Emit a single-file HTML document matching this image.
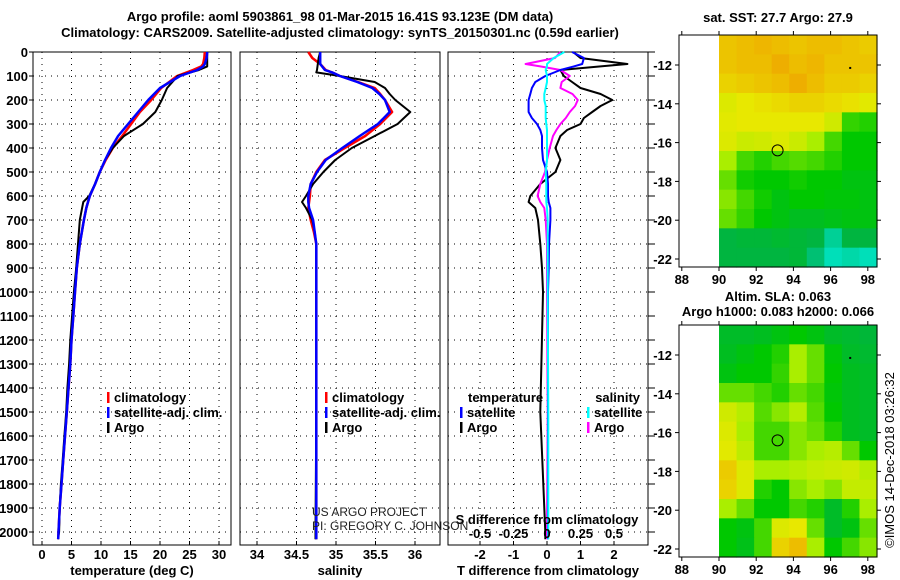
<!DOCTYPE html>
<html><head><meta charset="utf-8"><style>
html,body{margin:0;padding:0;background:#fff;}
svg{display:block;font-family:"Liberation Sans",Arial,sans-serif;}
.b{font-weight:bold;font-size:13px;}
</style></head><body>
<svg id="c" width="900" height="580" viewBox="0 0 900 580" xmlns="http://www.w3.org/2000/svg">
<text class="b" x="340" y="21" text-anchor="middle">Argo profile: aoml 5903861_98 01-Mar-2015 16.41S 93.123E (DM data)</text>
<text class="b" x="340" y="37" text-anchor="middle">Climatology: CARS2009. Satellite-adjusted climatology: synTS_20150301.nc (0.59d earlier)</text>
</svg>
<script>
// ---- profile data ----
const depthsT = [0,25,50,60,75,100,150,200,250,300,350,400,450,500,550,600,625,650,700,800,900,1000,1100,1200,1300,1400,1500,1600,1700,1800,1900,2000,2030];
const tempArgo = [28.0,28.0,28.0,28.0,26.6,23.0,21.2,20.3,19.2,17.1,13.9,12.0,10.7,9.8,9.0,8.0,7.0,6.8,6.4,6.1,5.8,5.4,5.1,4.8,4.6,4.3,4.1,3.8,3.5,3.2,3.0,2.9,2.7];
const tempClim = [27.6,27.5,27.3,27.0,25.6,22.9,20.2,18.5,16.6,15.1,13.6,12.0,10.8,9.8,9.0,8.1,7.8,7.5,7.1,6.4,5.9,5.6,5.3,5.0,4.8,4.5,4.2,3.9,3.6,3.3,3.0,2.8,2.75];
const tempSat = [28.0,27.9,27.6,27.3,26.3,23.4,20.0,18.0,16.3,14.6,12.9,11.7,10.7,9.8,9.0,8.1,7.8,7.5,7.1,6.4,5.9,5.6,5.3,5.0,4.8,4.5,4.2,3.9,3.6,3.3,3.0,2.8,2.75];
const depthsS = [0,25,50,75,85,100,125,150,175,200,250,300,350,400,450,500,550,600,625,650,700,750,800,1000,1500,2000,2030];
const salArgo = [34.80,34.78,34.77,34.76,34.75,35.05,35.49,35.62,35.68,35.75,35.94,35.78,35.49,35.20,34.99,34.84,34.71,34.62,34.57,34.62,34.70,34.73,34.75,34.75,34.75,34.74,34.74];
const salClim = [34.65,34.70,34.80,34.87,34.95,35.05,35.28,35.49,35.56,35.62,35.71,35.56,35.37,35.11,34.86,34.75,34.68,34.67,34.66,34.65,34.68,34.72,34.75,34.75,34.75,34.75,34.75];
const salSat = [34.80,34.80,34.80,34.86,34.95,35.05,35.27,35.46,35.55,35.62,35.68,35.53,35.30,35.08,34.87,34.76,34.68,34.65,34.65,34.66,34.71,34.73,34.75,34.75,34.75,34.75,34.75];
const depthsD = [0,25,50,60,75,100,125,150,175,200,225,250,275,300,325,350,400,450,500,550,600,625,650,700,800,900,1000,1500,2000,2030];
const dTArgo = [0.78,1.0,2.4,1.6,0.4,0.5,0.75,1.0,1.6,1.95,1.6,1.35,1.1,1.0,0.6,0.4,0.25,0.4,0.25,-0.2,-0.5,-0.55,-0.35,-0.27,-0.2,-0.15,-0.12,-0.2,-0.05,-0.05];
const dTSat = [0.75,1.1,1.05,0.8,0.4,-0.05,-0.35,-0.45,-0.5,-0.55,-0.55,-0.55,-0.45,-0.3,-0.2,-0.15,-0.15,-0.12,0,0.03,0.03,0.05,0.1,0.1,0.06,0.05,0.03,0.03,0.03,0.03];
const dSArgo = [0.1,0.06,-0.16,-0.05,0.1,0.17,0.11,0.1,0.19,0.23,0.21,0.17,0.14,0.1,0.07,0.045,0.02,0,-0.015,-0.05,-0.07,-0.05,-0.02,-0.01,0,0,0,0.005,0,0];
const dSSat = [0.13,0.05,0,0,-0.01,0,0,-0.01,-0.02,-0.02,-0.01,-0.01,-0.01,-0.005,0,0,0,0,-0.01,-0.005,-0.005,-0.005,0,0.005,0.005,0.005,0.005,0.01,0.01,0.01];
const depthTicks = [0,100,200,300,400,500,600,700,800,900,1000,1100,1200,1300,1400,1500,1600,1700,1800,1900,2000];
const tTicks = [0,5,10,15,20,25,30];
const sTicks = [34,34.5,35,35.5,36];
const sTickLabels = ["34","34.5","35","35.5","36"];
const dTTicks = [-2,-1,0,1,2];
const dSTicks = [-0.5,-0.25,0,0.25,0.5];
const dSTickLabels = ["-0.5","-0.25","0","0.25","0.5"];
// ---- map data (cell values on colour scale 0=cyan .. 5=orange) ----
const lonTicks = [88,90,92,94,96,98];
const latTicks = [-12,-14,-16,-18,-20,-22];
const sstGrid = [
[4.5,4.6,4.7,4.6,4.5,4.6,4.6,4.5,4.4],
[4.5,4.6,4.6,4.8,4.6,4.7,4.5,4.5,4.5],
[4.3,4.4,4.5,4.6,4.8,4.6,4.4,4.4,4.3],
[3.8,4.0,4.1,4.2,4.3,4.3,4.2,4.1,3.9],
[3.9,4.0,4.0,4.0,4.0,4.0,3.6,2.3,2.2],
[3.8,3.5,3.6,3.8,3.5,3.0,2.4,2.0,2.0],
[3.0,2.4,2.2,2.4,2.5,2.4,2.2,2.0,2.0],
[2.6,2.1,2.0,2.0,2.1,2.0,2.0,1.8,1.8],
[2.8,2.4,2.1,1.8,2.0,2.0,1.9,1.9,1.8],
[2.6,2.3,2.0,1.8,1.6,1.6,1.7,1.8,1.8],
[1.2,1.3,1.3,1.4,1.3,1.2,0.6,1.2,1.2],
[1.2,1.2,1.2,1.2,1.3,0.8,0.4,0.5,0.4]];
const slaGrid = [
[1.5,1.5,1.6,1.8,2.0,1.8,1.5,1.4,1.3],
[1.6,1.8,2.0,2.2,3.0,2.6,1.9,1.5,1.4],
[1.8,2.0,2.0,2.3,3.0,2.6,2.0,1.6,1.5],
[2.6,2.6,2.4,2.2,2.6,2.4,1.9,1.6,1.5],
[3.6,3.2,2.5,2.8,3.2,2.5,2.0,1.6,1.5],
[3.8,3.0,2.4,2.4,2.8,2.6,2.2,1.6,1.5],
[3.9,3.3,2.4,2.4,2.8,3.0,3.2,2.6,2.0],
[4.4,3.8,3.0,3.0,3.2,3.4,3.5,3.6,3.2],
[4.3,3.8,2.2,2.0,2.8,3.0,2.8,3.4,3.4],
[3.0,2.6,2.0,2.0,2.4,2.2,1.5,2.2,3.0],
[2.0,1.8,2.4,3.8,4.0,2.6,1.5,1.8,2.6],
[2.0,1.7,2.4,4.3,4.6,3.0,2.0,2.4,2.8]];
const argoPos = [93.15,-16.4];

const svg=document.getElementById('c');
const NS='http://www.w3.org/2000/svg';
function mk(tag,attrs,parent){const e=document.createElementNS(NS,tag);for(const k in attrs)e.setAttribute(k,attrs[k]);(parent||svg).appendChild(e);return e;}
const Y0=52,Y1=545;
const yD=d=>Y0+d*0.24;
function txt(x,y,s,anchor,cls,name,extra){const t=mk('text',Object.assign({x:x,y:y,'text-anchor':anchor||'middle'},extra||{}));if(cls)t.setAttribute('class',cls);t.textContent=s;


return t;}

function panel(x0,x1,xf,ticks,labels,xlabel,name,leftLabels){
  const g=mk('g',{});
  
  
  depthTicks.forEach(d=>{const y=yD(d);mk('line',{x1:x0,x2:x1,y1:y,y2:y,stroke:'#000','stroke-width':1,'stroke-dasharray':'1,5'},g);
    if(leftLabels){const t=txt(x0-5,y+5,String(d),'end','b','depth-tick-label');g.appendChild(t);mk('line',{x1:x0-4,x2:x0,y1:y,y2:y,stroke:'#000'},g);}});
  ticks.forEach((v,i)=>{const x=xf(v);mk('line',{x1:x,x2:x,y1:Y0,y2:Y1,stroke:'#000','stroke-width':1,'stroke-dasharray':'1,5'},g);
    mk('line',{x1:x,x2:x,y1:Y1,y2:Y1-4,stroke:'#000'},g);
    if(labels){const t=txt(x,559,labels[i],'middle','b','x-tick-label');g.appendChild(t);}});
  mk('rect',{x:x0,y:Y0,width:x1-x0,height:Y1-Y0,fill:'none',stroke:'#000','stroke-width':1},g);
  if(xlabel){const t=txt((x0+x1)/2,575,xlabel,'middle','b','x-axis-title');g.appendChild(t);}
  return g;
}
function line(g,xs,ds,xf,color,w,name){
  const pts=xs.map((v,i)=>xf(v).toFixed(1)+','+yD(ds[i]).toFixed(1)).join(' ');
  const p=mk('polyline',{points:pts,fill:'none',stroke:color,'stroke-width':w,'stroke-linejoin':'round'},g);
  
  
}
// panel 1
const xT=v=>42+5.9*v;
const g1=panel(33,231,xT,tTicks,tTicks.map(String),'temperature (deg C)','temperature-panel',true);
line(g1,tempClim,depthsT,xT,'#f00',2.5,'temperature-climatology-line');
line(g1,tempArgo,depthsT,xT,'#000',2,'temperature-argo-line');
line(g1,tempSat,depthsT,xT,'#00f',2.5,'temperature-satellite-line');
// panel 2
const xS=v=>257+79*(v-34);
const g2=panel(240,440,xS,sTicks,sTickLabels,'salinity','salinity-panel',false);
line(g2,salClim,depthsS,xS,'#f00',2.5,'salinity-climatology-line');
line(g2,salArgo,depthsS,xS,'#000',2,'salinity-argo-line');
line(g2,salSat,depthsS,xS,'#00f',2.5,'salinity-satellite-line');
// panel 3
const xDT=v=>547+33.5*v, xDS=v=>547+134*v;
const g3=panel(448,648,xDT,dTTicks,dTTicks.map(String),'T difference from climatology','difference-panel',false);
depthTicks.forEach(d=>mk('line',{x1:648,x2:655,y1:yD(d),y2:yD(d),stroke:'#000'},g3));
line(g3,dTArgo,depthsD,xDT,'#000',2,'t-diff-argo-line');
line(g3,dSArgo,depthsD,xDS,'#f0f',2,'s-diff-argo-line');
line(g3,dTSat,depthsD,xDT,'#00f',2,'t-diff-satellite-line');
line(g3,dSSat,depthsD,xDS,'#0ff',2,'s-diff-satellite-line');
dSTicks.forEach((v,i)=>{txt(xDS(v),538,dSTickLabels[i],'middle','b','s-diff-tick-label');});
txt(547,524,'S difference from climatology','middle','b','s-diff-axis-title');
// legends
function leg(x,y,color,label,name,anchor){mk('rect',{x:x,y:y-10,width:2.5,height:11,fill:color});txt(x+7,y,label,'start','b',name);}
leg(107,402,'#f00','climatology','legend-climatology');
leg(107,417,'#00f','satellite-adj. clim.','legend-satellite');
leg(107,432,'#000','Argo','legend-argo');
leg(325,402,'#f00','climatology','legend-climatology-2');
leg(325,417,'#00f','satellite-adj. clim.','legend-satellite-2');
leg(325,432,'#000','Argo','legend-argo-2');
txt(468,402,'temperature','start','b','legend-temperature-header');
leg(460,417,'#00f','satellite','legend-t-satellite');
leg(460,432,'#000','Argo','legend-t-argo');
txt(640,402,'salinity','end','b','legend-salinity-header');
leg(587,417,'#0ff','satellite','legend-s-satellite');
leg(587,432,'#f0f','Argo','legend-s-argo');
txt(312,516,'US ARGO PROJECT','start',null,'credit-project',{'font-size':'12','fill':'#222'});
txt(312,530,'PI: GREGORY C. JOHNSON','start',null,'credit-pi',{'font-size':'12','fill':'#222'});
// maps
const stops=[[0,[0,255,255]],[1,[0,176,80]],[2,[0,200,0]],[3,[170,238,0]],[4,[232,232,0]],[5,[240,160,0]]];
function col(v){v=Math.max(0,Math.min(5,v));let i=Math.min(4,Math.floor(v));const f=v-i;const a=stops[i][1],b=stops[i+1][1];return 'rgb('+a.map((c,k)=>Math.round(c+(b[k]-c)*f)).join(',')+')';}
function map(top,grid,name,t1,t2){
  const g=mk('g',{});
  
  
  const bottom=top+232;
  const xL=lon=>719+18.6*(lon-90);
  const yL=lat=>top+30+(-12-lat)*19.4;
  const rows=grid.length,cols=grid[0].length;
  const cw=(877-719)/cols,ch=(bottom-top)/rows;
  grid.forEach((r,i)=>r.forEach((v,j)=>{const c=mk('rect',{x:719+j*cw,y:top+i*ch,width:cw+0.6,height:ch+0.6,fill:col(v)},g);
    
    }));
  mk('rect',{x:679,y:top,width:198,height:bottom-top,fill:'none',stroke:'#000'},g);
  lonTicks.forEach(l=>{const x=xL(l);mk('line',{x1:x,x2:x,y1:bottom,y2:bottom+4,stroke:'#000'},g);mk('line',{x1:x,x2:x,y1:top,y2:top-4,stroke:'#000'},g);txt(x,bottom+17,String(l),'middle','b','map-lon-label');});
  latTicks.forEach(l=>{const y=yL(l);mk('line',{x1:679,x2:675,y1:y,y2:y,stroke:'#000'},g);mk('line',{x1:877,x2:881,y1:y,y2:y,stroke:'#000'},g);txt(672,y+5,String(l),'end','b','map-lat-label');});
  const c=mk('circle',{cx:xL(argoPos[0]),cy:yL(argoPos[1]),r:5.5,fill:'none',stroke:'#000','stroke-width':1},g);
  
  
  mk('rect',{x:xL(97),y:yL(-12.1),width:2,height:2,fill:'#000'},g);
  if(t2){txt(778,top-24,t1,'middle','b','map-title');txt(778,top-9,t2,'middle','b','map-subtitle');}
  else txt(778,top-13,t1,'middle','b','map-title');
}
map(35,sstGrid,'sst-map','sat. SST: 27.7 Argo: 27.9');
map(325,slaGrid,'sla-map','Altim. SLA: 0.063','Argo h1000: 0.083 h2000: 0.066');
txt(0,0,'©IMOS 14-Dec-2018 03:26:32','middle',null,'timestamp',{'font-size':'13','transform':'translate(894,460) rotate(-90)'});
</script>
</body></html>
